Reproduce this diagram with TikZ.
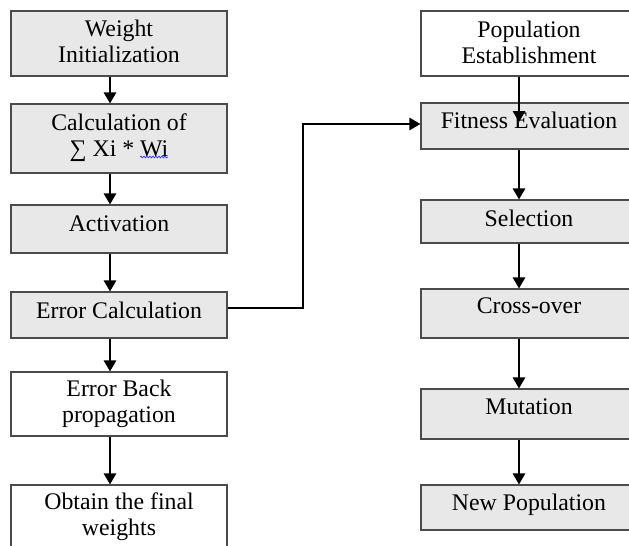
\documentclass[tikz,border=0pt]{standalone}
\usepackage{fontspec}
\setmainfont{Liberation Serif}
\usetikzlibrary{arrows.meta,decorations.pathmorphing}
\definecolor{boxfill}{RGB}{232,232,232}
\definecolor{boxline}{RGB}{75,75,75}
\tikzset{
  box/.style={draw=boxline, line width=1.2pt, fill=boxfill, minimum width=216pt, inner sep=0pt},
  wbox/.style={box, fill=white},
  txt/.style={font=\fontsize{23.8}{26.3}\selectfont, align=center, inner sep=0pt, anchor=north},
  arr/.style={draw=black, line width=1.4pt, -{Triangle[width=12.5pt,length=11pt]}},
  link/.style={draw=black, line width=1.2pt, -{Triangle[width=12.5pt,length=11pt]}}
}
\begin{document}
\begin{tikzpicture}[x=1pt,y=-1pt]
\useasboundingbox (0,0) rectangle (629,546);
\clip (0,0) rectangle (629,546);
\fill[white] (0,0) rectangle (629,546);
% left column
\node[box, minimum height=65pt] (w1) at (119,43.5) {};
\node[box, minimum height=69pt] (w2) at (119,138.5) {};
\node[box, minimum height=48pt] (act) at (119,229) {};
\node[box, minimum height=46pt] (err) at (119,315) {};
\node[wbox, minimum height=64pt] (back) at (119,404) {};
\node[wbox, minimum height=85pt] (obt) at (119,527.5) {};
% right column
\node[wbox, minimum height=65pt] (pop) at (529,43.5) {};
\node[box, minimum height=46pt] (fit) at (529,126) {};
\node[box, minimum height=43pt] (sel) at (529,221.5) {};
\node[box, minimum height=49pt] (cross) at (529,313.5) {};
\node[box, minimum height=50pt] (mut) at (529,414) {};
\node[box, minimum height=45pt] (newp) at (529,507.5) {};
% texts
\node[txt] (w1t) at (119,19.7) {Weight\\Initialization};
\node[txt] (w2t) at (119,113.7) {Calculation of\\∑ Xi * Wi};
\node[txt] (actt) at (119,215.7) {Activation};
\node[txt] (errt) at (119,301.7) {Error Calculation};
\node[txt] (backt) at (119,379.7) {Error Back\\propagation};
\node[txt] (obtt) at (119,492.7) {Obtain the final\\weights};
\node[txt] (popt) at (529,20.4) {Population\\Establishment};
\node[txt] (fitt) at (529,111.7) {Fitness Evaluation};
\node[txt] (selt) at (529,209.4) {Selection};
\node[txt] (crosst) at (529,297.7) {Cross-over};
\node[txt] (mutt) at (529,398.7) {Mutation};
\node[txt] (newpt) at (529,493.7) {New Population};
% spell-check underline
\draw[blue!80!white, line width=0.7pt, decorate, decoration={snake, amplitude=0.9pt, segment length=3pt}] (140,157) -- (168,157);
% arrow columns
\coordinate (la) at (110,0);
\coordinate (ra) at (519,0);
\draw[arr] (w1.south -| la) -- (w2.north -| la);
\draw[arr] (w2.south -| la) -- (act.north -| la);
\draw[arr] (act.south -| la) -- (err.north -| la);
\draw[arr] (err.south -| la) -- (back.north -| la);
\draw[arr] (back.south -| la) -- (obt.north -| la);
\coordinate (fitmid) at (519,122);
\draw[arr] (pop.south -| ra) -- (fitmid);
\draw[arr] (fit.south -| ra) -- (sel.north -| ra);
\draw[arr] (sel.south -| ra) -- (cross.north -| ra);
\draw[arr] (cross.south -| ra) -- (mut.north -| ra);
\draw[arr] (mut.south -| ra) -- (newp.north -| ra);
% link from error calculation to fitness evaluation
\coordinate (bend) at (303,124);
\draw[link] ([yshift=7pt]err.east) -| (bend) -- ([yshift=2pt]fit.west);
\end{tikzpicture}
\end{document}
